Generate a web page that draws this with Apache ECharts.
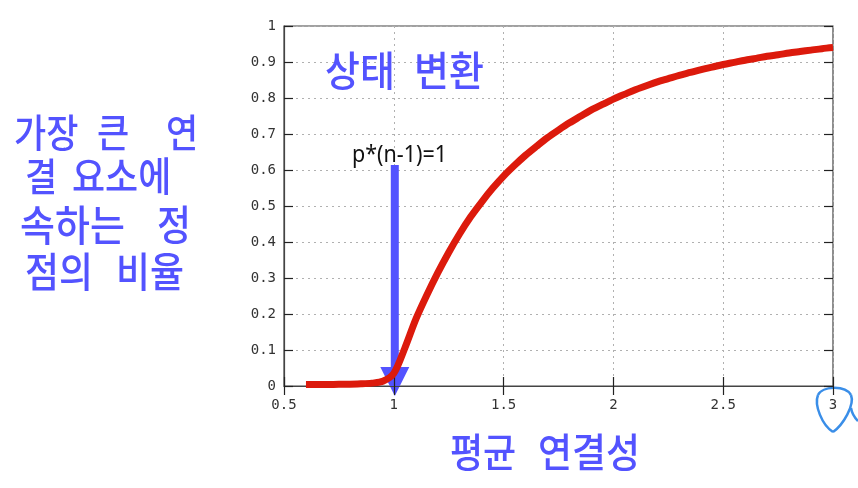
<!DOCTYPE html>
<html><head><meta charset="utf-8">
<script src="https://cdn.jsdelivr.net/npm/echarts@6/dist/echarts.min.js"></script>
<style>html,body{margin:0;padding:0;background:#fff;}#c{width:858px;height:488px;}</style>
</head><body><div id="c"></div>
<script>
// average degree (x) and fraction of nodes in the largest component (y)
const avgDegree = [0.60,0.65,0.70,0.75,0.80,0.85,0.90,0.95,1.00,1.05,1.10,1.15,1.20,1.25,1.30,1.35,1.40,1.45,1.50,1.55,1.60,1.65,1.70,1.75,1.80,1.85,1.90,1.95,2.00,2.05,2.10,2.15,2.20,2.25,2.30,2.35,2.40,2.45,2.50,2.55,2.60,2.65,2.70,2.75,2.80,2.85,2.90,2.95,3.00];
const giantFraction = [0.004,0.004,0.004,0.005,0.005,0.006,0.008,0.013,0.035,0.105,0.185,0.252,0.314,0.371,0.423,0.470,0.511,0.549,0.583,0.613,0.641,0.666,0.690,0.711,0.731,0.749,0.767,0.782,0.797,0.810,0.823,0.834,0.845,0.854,0.863,0.871,0.879,0.886,0.893,0.899,0.905,0.910,0.916,0.920,0.925,0.929,0.933,0.937,0.940];
const xTicks = {min:0.5, max:3, interval:0.5};
const yTicks = {min:0, max:1, interval:0.1};
const annotationX = 1;        // p*(n-1)=1
const arrowTop = 0.614, arrowHeadBase = 0.053, arrowTip = -0.028;

const chart = echarts.init(document.getElementById('c'), null, {renderer:'canvas'});
const labelStyle = {fontFamily:'DejaVu Sans Mono', fontSize:14, color:'#333'};
const tickStyle = {show:true, inside:true, length:9, lineStyle:{color:'#222', width:1.2}};
const blue = '#5353ff';
chart.setOption({
  animation:false,
  grid:{left:284, right:25, top:26, bottom:102, show:true, borderColor:'#444', borderWidth:1.2},
  xAxis:[
    {type:'value', min:xTicks.min, max:xTicks.max, interval:xTicks.interval, position:'bottom',
     axisLine:{show:true, onZero:false, lineStyle:{color:'#444', width:1.2}},
     axisTick:tickStyle, axisLabel:Object.assign({margin:12, formatter:v=>String(+v.toFixed(1))}, labelStyle),
     splitLine:{show:true, lineStyle:{color:'#b0b0b0', type:[2,4], width:1}}},
    {type:'value', min:xTicks.min, max:xTicks.max, interval:xTicks.interval, position:'top',
     axisLine:{show:false}, axisTick:tickStyle, axisLabel:{show:false}, splitLine:{show:false}}
  ],
  yAxis:[
    {type:'value', min:yTicks.min, max:yTicks.max, interval:yTicks.interval, position:'left',
     axisLine:{show:true, onZero:false, lineStyle:{color:'#444', width:1.2}},
     axisTick:tickStyle, axisLabel:Object.assign({margin:8, formatter:v=>String(+v.toFixed(1))}, labelStyle),
     splitLine:{show:true, lineStyle:{color:'#b0b0b0', type:[2,4], width:1}}},
    {type:'value', min:yTicks.min, max:yTicks.max, interval:yTicks.interval, position:'right',
     axisLine:{show:false}, axisTick:tickStyle, axisLabel:{show:false}, splitLine:{show:false}}
  ],
  series:[{
    type:'line', xAxisIndex:0, yAxisIndex:0,
    data: avgDegree.map((x,i)=>[x, giantFraction[i]]),
    smooth:0.3, showSymbol:false, symbol:'none',
    lineStyle:{color:'#dc1a0c', width:7}
  }]
});

const pTop = chart.convertToPixel({xAxisIndex:0,yAxisIndex:0},[annotationX, arrowTop]);
const pBase = chart.convertToPixel({xAxisIndex:0,yAxisIndex:0},[annotationX, arrowHeadBase]);
const pTip = chart.convertToPixel({xAxisIndex:0,yAxisIndex:0},[annotationX, arrowTip]);
const ax = pTip[0] + 1;
const font = '"Noto Sans CJK KR", sans-serif';
function word(t, x, y, size, sy){ return {type:'text', x:x, y:y, scaleY:sy||1.1, style:{text:t, fill:blue, font:`500 ${size}px ${font}`, textVerticalAlign:'middle', verticalAlign:'middle'}}; }
function curve(a){ return {type:'bezierCurve', shape:{x1:a[0],y1:a[1],cpx1:a[2],cpy1:a[3],cpx2:a[4],cpy2:a[5],x2:a[6],y2:a[7]}, style:{fill:null, stroke:'#3a8ee8', lineWidth:2.5}}; }
chart.setOption({graphic:[
  {type:'rect', shape:{x:ax-4, y:pTop[1], width:8, height:pBase[1]-pTop[1]+1}, style:{fill:blue}},
  {type:'polygon', shape:{points:[[ax-14.5, pBase[1]],[ax+14.5, pBase[1]],[ax, pTip[1]]]}, style:{fill:blue}},
  {type:'text', x:352, y:155, scaleY:1.08, style:{text:'p*(n-1)=1', fill:'#111', font:'21.5px "Noto Sans", sans-serif', textVerticalAlign:'middle', verticalAlign:'middle'}},
  word('상태', 325, 70, 38, 1.08), word('변환', 414, 70, 38, 1.08),
  word('가장', 14, 132, 35), word('큰', 97, 132, 35), word('연', 166, 132, 35),
  word('결', 25, 176, 35), word('요소에', 72, 176, 36),
  word('속하는', 20, 225, 38), word('정', 157, 225, 37),
  word('점의', 25, 272, 37), word('비율', 116, 272, 37),
  word('평균', 450, 452, 36, 1.1), word('연결성', 538, 452, 37, 1.08),
  curve([833,432, 822,425, 814,405, 818,395]),
  curve([818,395, 822,386, 845,385, 851,395]),
  curve([851,395, 855,405, 843,425, 833,432]),
  curve([851,408, 852,414, 855,418, 858,421])
]});
</script></body></html>
